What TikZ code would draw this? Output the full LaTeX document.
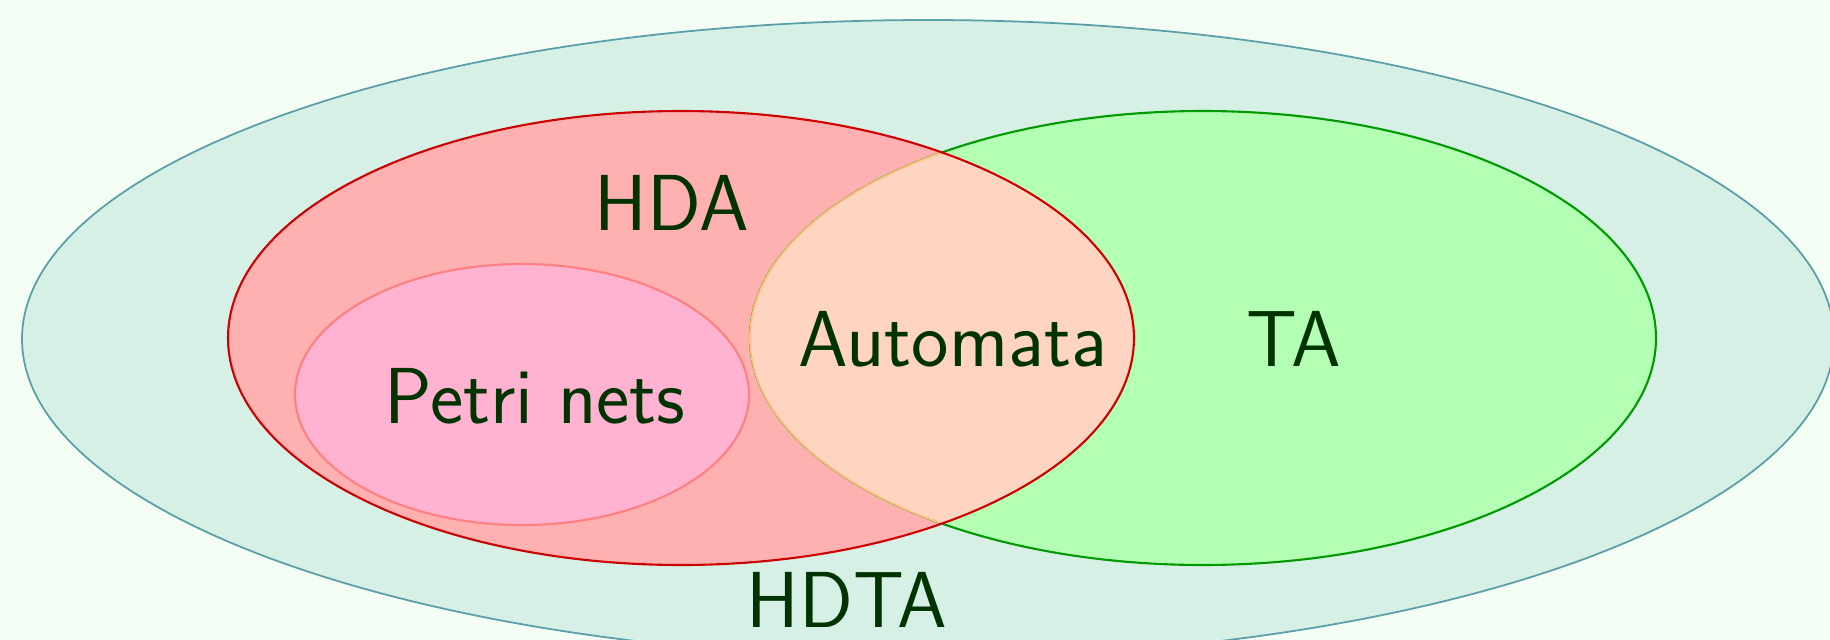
\documentclass[tikz,border=0pt]{standalone}
\begin{document}
\begin{tikzpicture}[x=0.1mm,y=-0.1mm,
  lbl/.style={anchor=base,inner sep=0pt,text=txtc,font=\sffamily\fontsize{22.6}{27}\selectfont}]
\definecolor{bgc}{HTML}{F3FDF3}
\definecolor{outfill}{HTML}{D6F0E6}
\definecolor{outline}{HTML}{5A9EA8}
\definecolor{hdafill}{HTML}{FFB0B0}
\definecolor{hdaline}{HTML}{CC0000}
\definecolor{tafill}{HTML}{B3FFB3}
\definecolor{taline}{HTML}{009900}
\definecolor{autofill}{HTML}{FFD4C0}
\definecolor{autoline}{HTML}{FFC080}
\definecolor{pnfill}{HTML}{FFB3D1}
\definecolor{pnline}{HTML}{FF8080}
\definecolor{txtc}{HTML}{003300}
\useasboundingbox (0,0) rectangle (1830,640);
\fill[bgc] (0,0) rectangle (1830,640);
% outer HDTA
\draw[fill=outfill,draw=outline,line width=0.5pt] (928,339) ellipse [x radius=90.6mm, y radius=31.9mm];
% HDA fill
\fill[hdafill] (681,338) ellipse [x radius=45.3mm, y radius=22.7mm];
% TA
\draw[fill=tafill,draw=taline,line width=0.6pt] (1203,338) ellipse [x radius=45.3mm, y radius=22.7mm];
% intersection Automata
\begin{scope}
  \clip (681,338) ellipse [x radius=45.3mm, y radius=22.7mm];
  \draw[fill=autofill,draw=autoline,line width=0.5pt] (1203,338) ellipse [x radius=45.3mm, y radius=22.7mm];
\end{scope}
% HDA border
\draw[draw=hdaline,line width=0.6pt] (681,338) ellipse [x radius=45.3mm, y radius=22.7mm];
% Petri nets
\draw[fill=pnfill,draw=pnline,line width=0.6pt] (522,394.5) ellipse [x radius=22.7mm, y radius=13.05mm];
% labels
\node[lbl] (hda) at (672,230) {HDA};
\node[lbl] (auto) at (953,366) {Automata};
\node[lbl] (ta) at (1294,366) {TA};
\node[lbl] (pn) at (535,423) {Petri nets};
\node[lbl] (hdta) at (847,627) {HDTA};
\end{tikzpicture}
\end{document}
